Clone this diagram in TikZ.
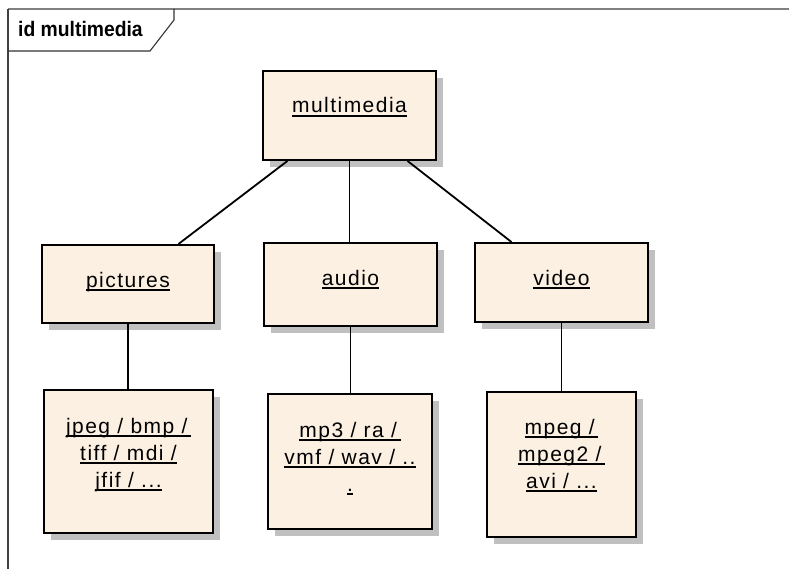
\documentclass[tikz,border=0pt]{standalone}
\usepackage{fontspec}
\usepackage{graphicx}
\setmainfont{Liberation Sans}
\newfontfamily\boxfont[LetterSpace=7]{Liberation Sans}
\usetikzlibrary{shadows,calc}
\definecolor{boxfill}{RGB}{251,240,226}
\definecolor{shadowgray}{RGB}{192,192,192}
\definecolor{framegray}{RGB}{128,128,128}
% underlined text: rule drawn through the descenders
\newsavebox\ulsave
\newcommand{\ulbox}[1]{\sbox\ulsave{#1}\rlap{\raisebox{-3.6pt}{\rule{\wd\ulsave}{1.4pt}}}\usebox\ulsave}
\newcommand{\lines}[1]{\begin{tabular}[t]{@{}c@{}}#1\end{tabular}}
\tikzset{
  elem/.style={draw=black, line width=2pt, fill=boxfill, inner sep=0pt,
    drop shadow={shadow xshift=7pt, shadow yshift=-7pt, fill=shadowgray, opacity=1}},
  elemtext/.style={anchor=base, inner sep=0pt,
    font=\boxfont\fontsize{21}{27}\selectfont},
  conn/.style={draw=black, line width=1.8pt},
}
\begin{document}
\begin{tikzpicture}[x=1pt, y=-1pt]
\useasboundingbox (0,0) rectangle (789,569);
% diagram frame and its name tab
\draw[framegray, line width=2.5pt] (8,9) -- (789,9);
\draw[black!75, line width=1.4pt] (8,9) -- (8,569);
\draw[black!80, line width=1.1pt] (174,9) -- (174,20) -- (150,51) -- (8,51);
\node[anchor=base west, inner sep=0pt, font=\bfseries\fontsize{21}{24}\selectfont] (frame) at (18,37) {\scalebox{0.92}[1]{id multimedia}};

% elements
\node[elem, minimum width=173pt, minimum height=89pt] (mm) at (349.5,115.5) {};
\node[elem, minimum width=172pt, minimum height=78pt] (pic) at (128,284) {};
\node[elem, minimum width=173pt, minimum height=83pt] (aud) at (350.5,284.5) {};
\node[elem, minimum width=173pt, minimum height=79pt] (vid) at (561.5,282.5) {};
\node[elem, minimum width=169pt, minimum height=143pt] (jpg) at (128.5,461.5) {};
\node[elem, minimum width=164pt, minimum height=135pt] (mp3) at (350,461.5) {};
\node[elem, minimum width=149pt, minimum height=145pt] (mpg) at (561.5,464.5) {};

% element names
\node[elemtext] (mmt) at ($(mm.north)+(0,43)$) {\ulbox{multimedia}};
\node[elemtext] (pict) at ($(pic.north)+(0,43)$) {\ulbox{pictures}};
\node[elemtext] (audt) at ($(aud.north)+(0,43)$) {\ulbox{audio}};
\node[elemtext] (vidt) at ($(vid.north)+(0,43)$) {\ulbox{video}};
\node[elemtext] (jpgt) at ($(jpg.north)+(0,44)$) {\lines{\ulbox{jpeg / bmp /\,}\\ \ulbox{tiff / mdi /}\\ \ulbox{jfif / ...}}};
\node[elemtext] (mp3t) at ($(mp3.north)+(0,44)$) {\lines{\ulbox{mp3 / ra /\,}\\ \ulbox{vmf / wav / ..}\\ \ulbox{.}}};
\node[elemtext] (mpgt) at ($(mpg.north)+(0,43)$) {\lines{\ulbox{mpeg /\,}\\ \ulbox{mpeg2 /\,}\\ \ulbox{avi / ...}}};

% connectors
\draw[conn] ($(mm.south west)!0.145!(mm.south east)$) -- ($(pic.north west)!0.79!(pic.north east)$);
\draw[conn] (mm.south) -- (mm.south |- aud.north);
\draw[conn] ($(mm.south west)!0.832!(mm.south east)$) -- ($(vid.north west)!0.214!(vid.north east)$);
\draw[conn] (pic.south) -- (pic.south |- jpg.north);
\draw[conn] (aud.south) -- (aud.south |- mp3.north);
\draw[conn] (vid.south) -- (vid.south |- mpg.north);
\end{tikzpicture}
\end{document}
